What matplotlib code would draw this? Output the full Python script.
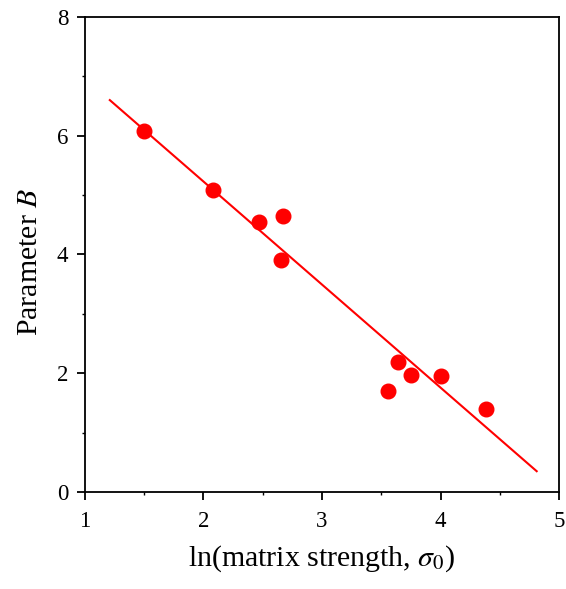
import numpy as np
import matplotlib.pyplot as plt
from matplotlib.ticker import MultipleLocator

plt.rcParams['font.family'] = 'Liberation Serif'
plt.rcParams['mathtext.fontset'] = 'stix'

# data
ln_sigma0 = [1.50, 2.08, 2.47, 2.67, 2.65, 3.64, 3.56, 3.75, 4.00, 4.38]
param_B = [6.08, 5.08, 4.55, 4.65, 3.91, 2.19, 1.70, 1.97, 1.95, 1.40]
fit_x = [1.21, 4.81]
fit_y = [6.60, 0.35]

fig = plt.figure(figsize=(5.66, 5.89), dpi=100)
ax = fig.add_axes([0.150, 0.1647, 0.838, 0.8065])

ax.plot(fit_x, fit_y, color='red', lw=1.5)
ax.plot(ln_sigma0, param_B, 'o', color='red', ms=10.5, mec='red')

ax.set_xlim(1, 5)
ax.set_ylim(0, 8)
ax.xaxis.set_major_locator(MultipleLocator(1))
ax.xaxis.set_minor_locator(MultipleLocator(0.5))
ax.yaxis.set_major_locator(MultipleLocator(2))
ax.yaxis.set_minor_locator(MultipleLocator(1))
ax.tick_params(which='major', direction='out', length=6, width=1.3, labelsize=16.5)
ax.tick_params(axis='x', which='major', pad=8)
ax.tick_params(axis='y', which='major', pad=6)
ax.tick_params(which='minor', direction='out', length=2, width=1)
for s in ax.spines.values():
    s.set_linewidth(1.3)

ax.set_xlabel(r'ln(matrix strength, $\sigma_0$)', fontsize=21.5, labelpad=8)
ax.set_ylabel(r'Parameter $B$', fontsize=21.5)
ax.yaxis.set_label_coords(-0.088, 0.485)

fig.savefig('out.png', dpi=100)
